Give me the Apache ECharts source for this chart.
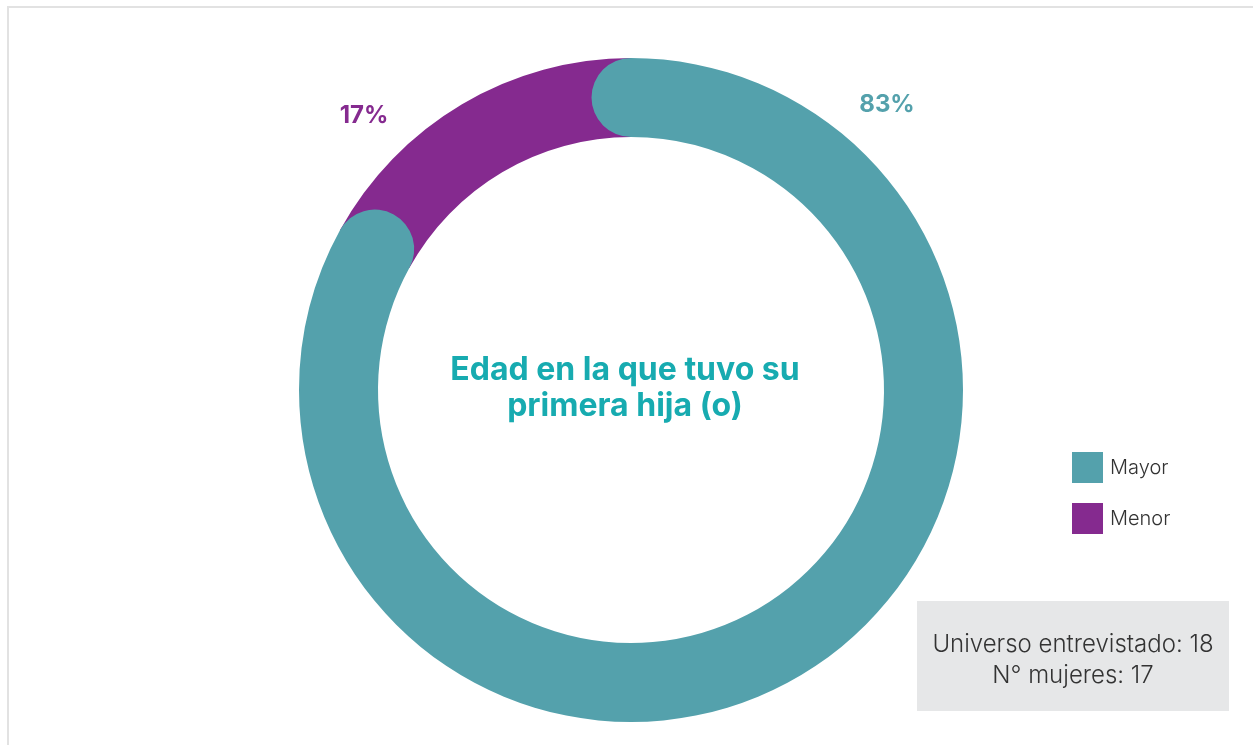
<!DOCTYPE html>
<html>
<head>
<meta charset="utf-8">
<style>
  html, body { margin: 0; padding: 0; background: #ffffff; }
  #chart { width: 1253px; height: 745px; }
</style>
<script src="https://cdn.jsdelivr.net/npm/echarts@6/dist/echarts.min.js"></script>
</head>
<body>
<div id="chart"></div>
<script>
// Share of respondents by age at first child
const categories = ['Mayor', 'Menor'];
const values = [83, 17];
const colors = ['#54a1ac', '#852a8f'];
const centerTitle = 'Edad en la que tuvo su\nprimera hija (o)';
const noteLines = ['Universo entrevistado: 18', 'N° mujeres: 17'];

const chart = echarts.init(document.getElementById('chart'), null, { renderer: 'canvas' });

const cx = 631, cy = 390, rIn = 253, rOut = 332;

chart.setOption({
  animation: false,
  backgroundColor: '#ffffff',
  polar: { center: [cx, cy], radius: [rIn, rOut] },
  angleAxis: { type: 'value', min: 0, max: 100, startAngle: 90, clockwise: true, show: false },
  radiusAxis: { type: 'category', data: ['total'], show: false },
  legend: {
    orient: 'vertical',
    left: 1067,
    top: 447,
    icon: 'rect',
    itemWidth: 31,
    itemHeight: 31,
    itemGap: 20,
    data: categories,
    textStyle: { fontFamily: 'Inter', fontWeight: 300, fontSize: 20, color: '#333333', padding: [0, 0, 0, 2] },
    selectedMode: false
  },
  series: [
    {
      // first in the stack: runs clockwise from 12 o'clock, rounded ends drawn on top
      name: categories[0],
      type: 'bar',
      coordinateSystem: 'polar',
      stack: 'ring',
      data: [values[0]],
      barWidth: rOut - rIn,
      roundCap: true,
      itemStyle: { color: colors[0] },
      z: 3
    },
    {
      name: categories[1],
      type: 'bar',
      coordinateSystem: 'polar',
      stack: 'ring',
      data: [values[1]],
      barWidth: rOut - rIn,
      itemStyle: { color: colors[1] },
      z: 2
    }
  ],
  graphic: [
    { type: 'line', shape: { x1: 7, y1: 7, x2: 1253, y2: 7 }, style: { stroke: '#e2e2e2', lineWidth: 2 } },
    { type: 'line', shape: { x1: 8, y1: 6, x2: 8, y2: 745 }, style: { stroke: '#e2e2e2', lineWidth: 2 } },
    {
      type: 'text', x: cx - 6, y: cy - 2, z: 10,
      style: {
        text: centerTitle, align: 'center', verticalAlign: 'middle',
        fontFamily: 'Inter', fontWeight: 700, fontSize: 32, lineHeight: 36, fill: '#17abb0'
      }
    },
    {
      type: 'text', x: 887, y: 105, z: 10,
      style: {
        text: values[0] + '%', align: 'center', verticalAlign: 'middle',
        fontFamily: 'Inter', fontWeight: 700, fontSize: 24, fill: colors[0]
      }
    },
    {
      type: 'text', x: 364, y: 116, z: 10,
      style: {
        text: values[1] + '%', align: 'center', verticalAlign: 'middle',
        fontFamily: 'Inter', fontWeight: 700, fontSize: 24, fill: colors[1]
      }
    },
    {
      type: 'rect', z: 5,
      shape: { x: 917, y: 601, width: 312, height: 110 },
      style: { fill: '#e6e7e8' }
    },
    {
      type: 'text', x: 1073, y: 660, z: 10,
      style: {
        text: noteLines.join('\n'), align: 'center', verticalAlign: 'middle',
        fontFamily: 'Inter', fontWeight: 300, fontSize: 24, lineHeight: 31, fill: '#333333'
      }
    }
  ]
});
</script>
</body>
</html>
